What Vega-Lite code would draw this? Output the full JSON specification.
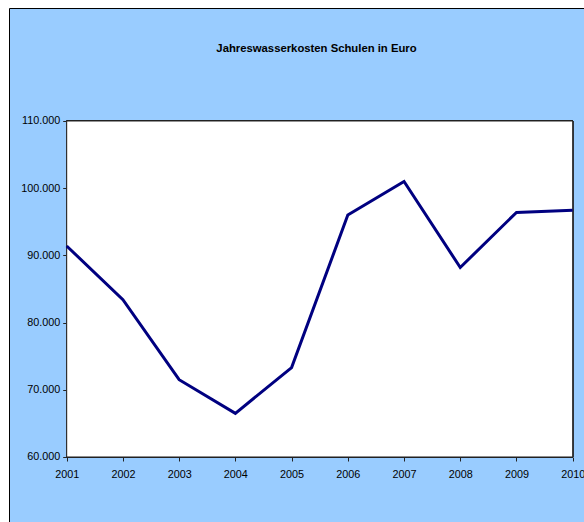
{
  "$schema": "https://vega.github.io/schema/vega-lite/v6.json",
  "width": 575,
  "height": 514,
  "autosize": {"type": "none"},
  "padding": {"left": 9, "top": 8, "right": 0, "bottom": 0},
  "background": "white",
  "title": {
    "text": "Jahreswasserkosten Schulen in Euro",
    "font": "Liberation Sans",
    "fontSize": 11.3,
    "fontWeight": "bold",
    "color": "black",
    "anchor": "middle",
    "frame": "group",
    "baseline": "middle",
    "offset": -39,
    "dx": 20,
    "dy": 13
  },
  "data": {
    "values": [
      {"Jahr": 2001, "Kosten": 91400},
      {"Jahr": 2002, "Kosten": 83400},
      {"Jahr": 2003, "Kosten": 71500},
      {"Jahr": 2004, "Kosten": 66500},
      {"Jahr": 2005, "Kosten": 73300},
      {"Jahr": 2006, "Kosten": 96000},
      {"Jahr": 2007, "Kosten": 101000},
      {"Jahr": 2008, "Kosten": 88200},
      {"Jahr": 2009, "Kosten": 96400},
      {"Jahr": 2010, "Kosten": 96700}
    ]
  },
  "encoding": {
    "x": {
      "field": "Jahr",
      "type": "quantitative",
      "scale": {"domain": [1999.9737, 2010.201], "nice": false, "zero": false},
      "axis": {
        "orient": "bottom",
        "offset": -65,
        "values": [2001, 2002, 2003, 2004, 2005, 2006, 2007, 2008, 2009, 2010],
        "format": "d",
        "labelPadding": 7,
        "labelFlush": false,
        "labelOverlap": false,
        "title": null
      }
    },
    "y": {
      "field": "Kosten",
      "type": "quantitative",
      "scale": {"domain": [50327, 126815], "nice": false, "zero": false},
      "axis": {
        "orient": "left",
        "offset": -57.7,
        "values": [60000, 70000, 80000, 90000, 100000, 110000],
        "labelExpr": "replace(format(datum.value, ','), ',', '.')",
        "labelPadding": 3,
        "labelOverlap": false,
        "title": null
      }
    }
  },
  "layer": [
    {
      "mark": {"type": "rect", "fill": "white", "stroke": "#222222", "strokeWidth": 1},
      "encoding": {
        "x": {"datum": 2001},
        "x2": {"datum": 2010},
        "y": {"datum": 60000},
        "y2": {"datum": 110000}
      }
    },
    {
      "mark": {"type": "line", "color": "#000080", "strokeWidth": 3, "strokeJoin": "miter"}
    }
  ],
  "config": {
    "view": {"fill": "#99CCFF", "stroke": "#000000", "strokeWidth": 1},
    "axis": {
      "grid": false,
      "domain": false,
      "labelFont": "Liberation Sans",
      "labelFontSize": 10.8,
      "labelColor": "black",
      "tickColor": "#222222",
      "tickSize": 4,
      "tickWidth": 1
    }
  }
}
